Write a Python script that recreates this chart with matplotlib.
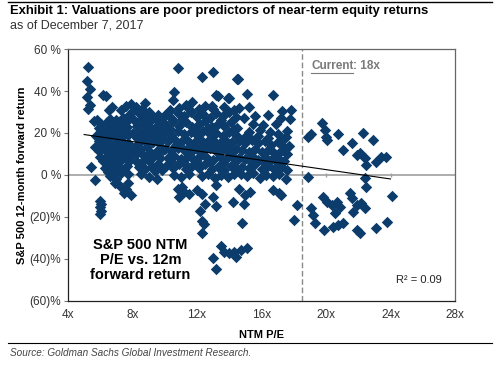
import matplotlib

matplotlib.use("Agg")

import matplotlib.pyplot as plt
import numpy as np
from matplotlib.lines import Line2D

plt.rcParams["font.family"] = ["Liberation Sans", "DejaVu Sans"]

# NTM P/E (x) vs. S&P 500 12-month forward return in % (y)
left_pts = [
    (5.25, 51.5), (5.2, 45.0), (5.35, 41.0), (5.15, 37.0), (5.35, 33.5), (5.25, 31.5),
    (5.45, 4.0), (5.65, -2.5), (6.2, 38.0), (6.35, 37.5), (6.7, 32.5), (6.55, 31.0),
    (5.6, 25.5), (5.8, 26.0), (5.9, 22.5), (6.05, 24.5), (6.2, 21.0), (6.4, 25.0),
    (6.6, 26.5), (6.8, 24.0), (7.0, 26.0), (7.2, 23.5), (7.4, 27.0), (7.6, 25.0), (7.8, 28.5),
    (5.75, 18.5), (5.95, 16.0), (6.15, 18.0), (6.35, 19.5), (6.55, 17.5), (6.75, 20.0),
    (6.95, 18.5), (7.15, 20.5), (7.35, 18.0), (7.55, 21.5), (7.75, 19.0),
    (5.7, 13.5), (5.9, 11.5), (6.1, 14.0), (6.3, 12.0), (6.5, 14.5), (6.7, 12.5),
    (6.9, 15.0), (7.1, 13.0), (7.3, 15.5), (7.5, 13.5), (7.7, 15.0), (7.9, 12.0),
    (6.0, 8.5), (6.2, 6.5), (6.4, 9.0), (6.6, 7.0), (6.8, 9.5), (7.0, 7.5), (7.2, 10.0),
    (7.4, 8.0), (7.6, 9.5), (7.8, 6.5),
    (6.3, 3.5), (6.5, 1.5), (6.7, 4.0), (6.9, 2.0), (7.1, 4.5), (7.3, 1.0), (7.5, 3.0), (7.7, 0.5),
    (6.6, -0.5), (6.9, -4.0), (7.2, -5.5), (7.45, -8.5), (7.6, -6.5), (7.75, -4.0),
    (7.9, -9.5), (7.0, -2.0),
    (5.98, -12.5), (6.02, -14.0), (5.97, -15.5), (6.03, -17.0), (6.0, -18.5),
    (7.3, 31.0), (7.6, 33.0), (7.9, 34.0),
    (6.0, 20.0), (6.45, 22.5), (6.85, 21.5), (7.25, 25.5), (7.65, 23.0),
    (6.25, 15.5), (6.65, 10.0), (7.05, 10.5), (7.45, 11.0), (7.85, 9.0),
    (6.45, 5.5), (6.85, 5.5), (7.25, 6.5), (7.65, 4.5),
]

mid_pts = [
    (8.0, 30.5), (8.2, 32.5), (8.4, 29.5), (8.6, 31.5), (8.8, 34.5), (9.0, 30.0),
    (9.2, 28.0), (9.4, 27.0), (9.6, 28.5), (9.8, 25.0),
    (8.1, 26.0), (8.3, 23.5), (8.5, 26.5), (8.7, 24.0), (8.9, 27.0), (9.1, 23.0),
    (9.3, 21.0), (9.5, 23.5), (9.7, 20.5), (9.9, 22.0),
    (8.05, 20.0), (8.25, 17.5), (8.45, 20.5), (8.65, 18.0), (8.85, 21.0), (9.05, 17.0),
    (9.25, 15.5), (9.45, 18.0), (9.65, 15.0), (9.85, 17.5),
    (8.1, 13.0), (8.3, 10.5), (8.5, 12.5), (8.7, 9.0), (8.9, 13.5), (9.1, 11.0),
    (9.3, 8.5), (9.5, 11.5), (9.7, 8.0), (9.9, 12.0),
    (8.2, 6.5), (8.4, 4.0), (8.6, 6.0), (8.8, 3.0), (9.0, 6.5), (9.2, 4.0),
    (9.4, 2.0), (9.6, 5.0), (9.8, 2.5), (8.5, 0.5), (9.0, -1.0), (9.5, -2.0),
    (8.4, 15.0), (8.8, 16.0), (9.2, 19.5), (9.6, 25.5), (9.1, 25.5), (8.6, 28.5),
]

center_pts = [
    (10.5, 35.5), (10.9, 32.0), (11.3, 33.5), (11.7, 35.0), (12.1, 31.5), (12.9, 33.0),
    (13.3, 37.5), (13.7, 32.5), (14.0, 36.5), (14.3, 31.0),
    (10.0, 28.5), (10.4, 27.0), (10.8, 29.5), (11.2, 28.0), (11.6, 30.0), (12.0, 27.5),
    (12.4, 29.0), (12.8, 27.0), (13.2, 29.5), (13.6, 28.0), (14.0, 30.0), (14.4, 27.5),
    (10.1, 24.0), (10.5, 25.5), (10.9, 23.5), (11.3, 25.0), (11.7, 23.0), (12.1, 24.5),
    (12.5, 25.5), (12.9, 23.0), (13.3, 24.5), (13.7, 23.5), (14.1, 25.0), (14.5, 22.5),
    (10.0, 20.5), (10.4, 19.0), (10.8, 21.0), (11.2, 19.5), (11.6, 20.5), (12.0, 19.0),
    (12.4, 21.0), (12.8, 19.5), (13.2, 20.0), (13.6, 18.5), (14.0, 20.5), (14.4, 19.0),
    (10.2, 16.0), (10.6, 17.0), (11.0, 15.5), (11.4, 16.5), (11.8, 15.0), (12.2, 17.0),
    (12.6, 15.5), (13.0, 16.5), (13.4, 15.0), (13.8, 16.0), (14.2, 15.5),
    (10.0, 12.5), (10.4, 11.5), (10.8, 13.0), (11.2, 12.0), (11.6, 11.0), (12.0, 12.5),
    (12.4, 11.5), (12.8, 13.0), (13.2, 11.5), (13.6, 12.5), (14.0, 11.0), (14.4, 12.5),
    (10.2, 8.0), (10.6, 9.0), (11.0, 7.5), (11.4, 8.5), (11.8, 7.0), (12.2, 9.0),
    (12.6, 8.0), (13.0, 7.0), (13.4, 8.5), (13.8, 7.5), (14.2, 9.0),
    (10.1, 4.5), (10.5, 3.5), (10.9, 5.0), (11.3, 3.0), (11.7, 4.5), (12.1, 3.5),
    (12.5, 5.0), (12.9, 3.0), (13.3, 4.0), (13.7, 2.5), (14.1, 4.5), (14.5, 3.0),
    (10.6, 0.0), (11.0, -1.0), (11.5, 0.5), (12.3, -0.5), (12.7, 0.5), (13.1, -1.5),
    (13.5, 0.0), (13.9, -1.0), (14.3, 0.5),
    (10.85, 51.0), (10.6, 39.5), (12.3, 46.7), (13.0, 49.0), (13.2, 38.0), (13.9, 36.5),
    (14.5, 45.5),
    (11.1, -5.7), (10.8, -6.5), (11.2, -8.0), (10.9, -10.5), (11.5, -9.0), (12.0, -7.0),
    (12.3, -9.0), (13.0, -10.5), (13.2, -5.0), (12.5, -14.0), (13.2, -15.0),
    (12.2, -17.0), (12.3, -22.0), (12.45, -23.5), (12.3, -27.6), (14.25, -13.0),
    (14.9, -14.0), (14.8, -23.0),
    (13.5, -34.0), (13.7, -36.5), (14.0, -37.0), (14.3, -36.5), (14.7, -36.0),
    (15.1, -35.0), (14.4, -39.0), (13.0, -39.5), (13.2, -45.0),
    (10.3, 22.0), (11.1, 26.5), (11.9, 21.5), (12.7, 22.5), (13.5, 26.0), (14.3, 22.0),
    (10.7, 14.5), (11.5, 13.5), (12.3, 14.0), (13.1, 14.0), (13.9, 13.5),
    (10.4, 6.5), (11.2, 5.5), (12.0, 6.0), (12.8, 5.5), (13.6, 5.5), (14.4, 6.5),
    (11.5, 31.5), (12.5, 33.0), (13.0, 31.5), (10.3, 31.0),
]

right_mid_pts = [
    (14.6, 16.0), (15.0, 15.0), (15.4, 16.5), (15.8, 15.0), (16.2, 16.0), (16.6, 14.5),
    (17.0, 15.5), (17.4, 13.5),
    (14.8, 12.0), (15.2, 11.0), (15.6, 12.5), (16.0, 11.0), (16.4, 12.0), (16.8, 10.5),
    (17.2, 11.5), (17.6, 10.0),
    (14.6, 8.0), (15.0, 7.5), (15.4, 9.0), (15.8, 7.0), (16.2, 8.5), (16.6, 7.0),
    (17.0, 8.0), (17.4, 6.5),
    (14.8, 4.0), (15.2, 3.5), (15.6, 5.0), (16.0, 3.0), (16.4, 4.5), (16.8, 3.0),
    (17.2, 4.0), (17.6, 2.5),
    (14.7, 0.5), (15.1, -0.5), (15.5, 1.0), (15.9, -1.5), (16.3, 0.0), (16.7, -0.5),
    (17.1, 0.5), (17.5, -2.0),
    (14.6, -6.5), (15.3, -8.0), (15.0, -9.5), (16.7, -7.0), (17.2, -9.5), (17.1, -8.7),
    (18.2, -14.3), (18.0, -21.4),
    (14.55, 45.7), (15.1, 38.8), (16.7, 38.0), (14.6, 31.7), (15.2, 32.5), (15.6, 28.0),
    (16.4, 28.5), (17.3, 30.5), (17.2, 27.0), (14.9, 27.0), (15.5, 24.5), (15.2, 20.5),
    (15.9, 21.5), (16.5, 20.5), (17.0, 19.5), (17.3, 16.5), (16.1, 24.0), (16.9, 24.5),
    (17.8, 31.0), (17.75, 26.5), (17.6, 21.0), (17.5, 18.0), (17.7, 14.0),
    (15.0, 18.0), (15.8, 18.5), (16.4, 17.5), (15.4, 5.5), (16.2, 5.5), (17.0, 5.5),
]

right_pts = [
    (18.9, 18.3), (19.1, 19.4), (19.73, 24.6), (19.94, 21.4), (20.0, 18.0), (20.05, 16.7),
    (20.76, 19.4), (22.3, 19.8), (22.93, 16.7), (21.07, 11.9), (21.6, 15.1),
    (21.9, 9.5), (22.1, 10.5), (22.4, 8.0), (22.5, 4.8), (23.1, 6.3), (23.4, 8.7),
    (23.7, 8.7), (18.9, -0.8), (22.4, -1.6), (22.45, -5.6),
    (19.83, -10.3), (20.04, -12.7), (20.35, -14.3), (20.66, -12.7), (20.87, -15.1),
    (20.56, -18.3), (21.49, -8.7), (21.6, -11.1), (21.9, -14.3), (21.7, -17.5),
    (22.2, -13.5), (22.4, -15.9), (19.1, -15.9), (19.2, -19.0), (19.3, -23.0),
    (19.9, -26.2), (20.45, -24.6), (20.76, -23.8), (21.07, -23.0), (21.9, -26.2),
    (22.1, -27.8), (23.1, -25.4), (23.76, -22.2), (24.07, -10.0),
]

x_ticks = [4, 8, 12, 16, 20, 24, 28]
y_ticks = [-60, -40, -20, 0, 20, 40, 60]
y_tick_labels = ["(60)%", "(40)%", "(20)%", "0 %", "20 %", "40 %", "60 %"]
current_pe = 18.5
trend_range = (5.0, 24.0)

NAVY = "#0b3c6b"

pts = np.array(left_pts + mid_pts + center_pts + right_mid_pts + right_pts)
pe, ret = pts[:, 0], pts[:, 1]

fig = plt.figure(figsize=(5.0, 3.66), dpi=100)
ax = fig.add_axes([0.136, 0.178, 0.774, 0.688])

ax.axhline(0, color="#a0a0a0", lw=1.2, zorder=1)
ax.plot(x_ticks[1:-1], np.zeros(len(x_ticks) - 2), ls="none", marker="|",
        ms=3, color="#a0a0a0", zorder=1)
ax.axvline(current_pe, color="#8a8a8a", lw=1.0, ls=(0, (4, 2)), zorder=1)

ax.scatter(pe, ret, marker="D", s=34, color=NAVY, linewidths=0, zorder=2)

slope, icpt = np.polyfit(pe, ret, 1)
tx = np.array(trend_range)
ax.plot(tx, slope * tx + icpt, color="black", lw=0.8, zorder=3)

ax.set_xlim(4, 28)
ax.set_ylim(-60, 60)
ax.set_xticks(x_ticks)
ax.set_xticklabels([f"{t}x" for t in x_ticks])
ax.set_yticks(y_ticks)
ax.set_yticklabels(y_tick_labels)
ax.tick_params(axis="x", length=0, pad=6, labelsize=8.5, labelcolor="#333333")
ax.tick_params(axis="y", length=3, width=0.8, color="#777777", pad=2,
               labelsize=8.5, labelcolor="#333333")
for side in ("top", "right"):
    ax.spines[side].set_color("#666666")
    ax.spines[side].set_linewidth(0.9)
for side in ("left", "bottom"):
    ax.spines[side].set_color("#222222")
    ax.spines[side].set_linewidth(0.9)

ax.set_xlabel("NTM P/E", fontsize=8, weight="bold", labelpad=6)
ax.set_ylabel("S&P 500 12-month forward return", fontsize=8, weight="bold", labelpad=2)

ax.text(8.5, -40.5, "S&P 500 NTM\nP/E vs. 12m\nforward return", ha="center",
        va="center", fontsize=10.5, weight="bold", linespacing=1.1)
ax.text(27.2, -50, "R² = 0.09", ha="right", va="center", fontsize=8, color="#222222")
cur = ax.text(19.07, 52, "Current", ha="left", va="center", fontsize=8.5,
              weight="bold", color="#7a7a7a")
fig.canvas.draw()
bb = cur.get_window_extent()
ax.annotate(": 18x", xy=(1, 0.5), xycoords=cur, va="center", ha="left",
            fontsize=8.5, weight="bold", color="#7a7a7a")
fig.add_artist(Line2D([bb.x0 / 500, bb.x1 / 500], [(bb.y0 - 1) / 366] * 2,
                      transform=fig.transFigure, color="#7a7a7a", lw=0.8))

fig.text(10 / 500, 1 - 11 / 366,
         "Exhibit 1: Valuations are poor predictors of near-term equity returns",
         fontsize=9.4, weight="bold", va="center", ha="left")
fig.text(10 / 500, 1 - 25 / 366, "as of December 7, 2017", fontsize=9,
         va="center", ha="left", color="#333333")
fig.add_artist(Line2D([8 / 500, 492 / 500], [1 - 2 / 366] * 2,
                      transform=fig.transFigure, color="black", lw=1.0))
fig.add_artist(Line2D([8 / 500, 492 / 500], [1 - 343 / 366] * 2,
                      transform=fig.transFigure, color="black", lw=0.8))
fig.text(10 / 500, 1 - 353 / 366, "Source: Goldman Sachs Global Investment Research.",
         fontsize=7.2, style="italic", va="center", ha="left", color="#444444")

fig.savefig("out.png", dpi=100)
plt.close(fig)
